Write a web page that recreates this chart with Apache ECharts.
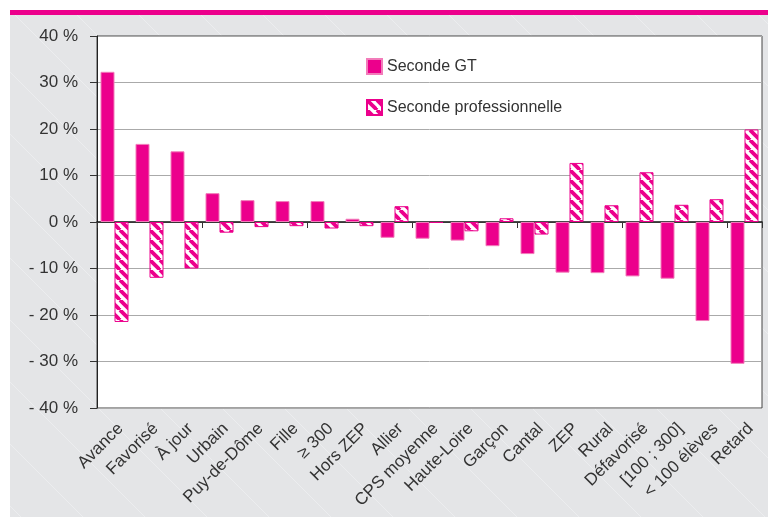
<!DOCTYPE html>
<html lang="fr">
<head>
  <meta charset="UTF-8">
  <title>Seconde GT / Seconde professionnelle</title>
  <script src="https://cdn.jsdelivr.net/npm/echarts@6/dist/echarts.min.js"></script>
  <style>
    html, body { margin: 0; padding: 0; background: #fff; }
    #chart { width: 768px; height: 517px; }
  </style>
</head>
<body>
  <div id="chart"></div>
  <script>
    var categories = ['Avance', 'Favorisé', 'À jour', 'Urbain', 'Puy-de-Dôme', 'Fille', '≥ 300', 'Hors ZEP',
      'Allier', 'CPS moyenne', 'Haute-Loire', 'Garçon', 'Cantal', 'ZEP', 'Rural', 'Défavorisé',
      '[100 ; 300]', '< 100 élèves', 'Retard'];
    var secondeGT = [32.3, 16.8, 15.2, 6.2, 4.7, 4.5, 4.5, 0.7, -3.4, -3.6, -4.0, -5.2, -6.9,
      -10.9, -11.0, -11.7, -12.2, -21.3, -30.5];
    var secondePro = [-21.5, -12.0, -10.0, -2.3, -1.1, -0.9, -1.4, -0.9, 3.4, -0.2, -2.0, 0.8, -2.7,
      12.7, 3.6, 10.7, 3.7, 4.9, 19.9];

    var pink = '#ec008c';
    var font = "'Liberation Sans', Arial, sans-serif";

    // hachures pour la seconde professionnelle
    var hatch = document.createElement('canvas');
    hatch.width = 10;
    hatch.height = 10;
    var hc = hatch.getContext('2d');
    hc.fillStyle = '#fff';
    hc.fillRect(0, 0, 10, 10);
    hc.strokeStyle = pink;
    hc.lineWidth = 3.8;
    for (var k = -10; k <= 10; k += 10) {
      hc.beginPath();
      hc.moveTo(k, 0);
      hc.lineTo(k + 10, 10);
      hc.stroke();
    }

    // fond gris avec lignes diagonales discrètes
    var bg = document.createElement('canvas');
    bg.width = 62;
    bg.height = 62;
    var bc = bg.getContext('2d');
    bc.fillStyle = '#e4e5e7';
    bc.fillRect(0, 0, 62, 62);
    bc.strokeStyle = '#ecedef';
    bc.lineWidth = 1;
    for (var j = -62; j <= 62; j += 62) {
      bc.beginPath();
      bc.moveTo(j, 0);
      bc.lineTo(j + 62, 62);
      bc.stroke();
    }

    var chart = echarts.init(document.getElementById('chart'));
    var option = {
      animation: false,
      textStyle: { fontFamily: font },
      graphic: [
        { type: 'rect', z: -10, shape: { x: 10, y: 15, width: 758, height: 502 }, style: { fill: { image: bg, repeat: 'repeat' } } },
        { type: 'rect', z: -10, shape: { x: 10, y: 10, width: 758, height: 5 }, style: { fill: pink } }
      ],
      legend: {
        orient: 'vertical',
        left: 361,
        top: 53,
        icon: 'rect',
        itemWidth: 15,
        itemHeight: 15,
        itemGap: 24,
        textStyle: { fontFamily: font, fontSize: 16, color: '#333' },
        data: ['Seconde GT', 'Seconde professionnelle']
      },
      grid: [
        {
          show: true,
          left: 97,
          right: 6,
          top: 36,
          bottom: 109,
          backgroundColor: '#fff',
          borderColor: '#444',
          borderWidth: 1
        },
        // grille décalée, seulement pour placer les libellés
        { show: false, left: 103, right: 0, top: 36, bottom: 109 }
      ],
      xAxis: [
        {
          type: 'category',
          data: categories,
          axisLine: { onZero: true, lineStyle: { color: '#111', width: 1.5 } },
          axisTick: { show: true, length: 6, lineStyle: { color: '#333' } },
          axisLabel: { show: false },
          splitLine: { show: false }
        },
        {
          type: 'category',
          gridIndex: 1,
          data: categories,
          position: 'bottom',
          axisLine: { show: false, onZero: false },
          axisTick: { show: false },
          axisLabel: {
            interval: 0,
            rotate: 45,
            margin: 18,
            fontSize: 17,
            fontFamily: font,
            color: '#333'
          }
        }
      ],
      yAxis: [
        {
          type: 'value',
          min: -40,
          max: 40,
          interval: 10,
          axisLine: { show: true, lineStyle: { color: '#222' } },
          axisTick: { show: true, length: 7, lineStyle: { color: '#333' } },
          axisLabel: {
            fontSize: 17,
            fontFamily: font,
            color: '#333',
            margin: 19,
            formatter: function (v) { return v < 0 ? '- ' + (-v) + ' %' : v + ' %'; }
          },
          splitLine: { lineStyle: { color: '#aaa', width: 1 } }
        },
        { type: 'value', gridIndex: 1, min: -40, max: 40, show: false }
      ],
      series: [
        {
          name: 'Seconde GT',
          type: 'bar',
          barGap: '0%',
          barCategoryGap: '20%',
          itemStyle: { color: pink, borderColor: '#f27cba', borderWidth: 1 },
          data: secondeGT
        },
        {
          name: 'Seconde professionnelle',
          type: 'bar',
          barGap: '0%',
          barCategoryGap: '20%',
          itemStyle: { color: { image: hatch, repeat: 'repeat' }, borderColor: pink, borderWidth: 1 },
          data: secondePro
        }
      ]
    };
    chart.setOption(option);
  </script>
</body>
</html>
